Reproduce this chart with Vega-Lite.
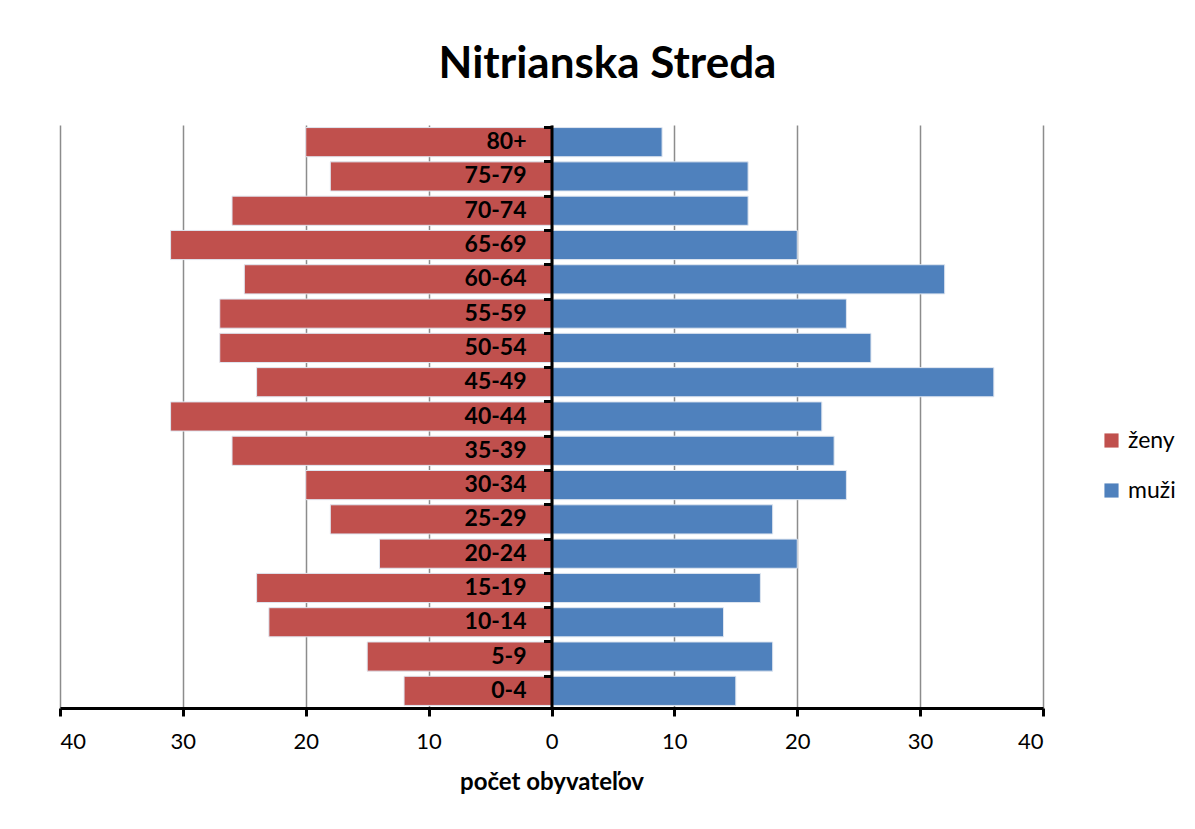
{
  "$schema": "https://vega.github.io/schema/vega-lite/v6.json",
  "autosize": {"type": "none"},
  "width": 983,
  "height": 583,
  "padding": {"left": 60, "top": 125, "right": 152, "bottom": 121},
  "background": "white",
  "title": {
    "text": "Nitrianska Streda",
    "font": "Lato",
    "fontSize": 44,
    "fontWeight": "bold",
    "color": "black",
    "anchor": "middle",
    "dx": 56,
    "offset": 38
  },
  "data": {
    "values": [
      {"age": "80+", "sex": "ženy", "value": 20}, {"age": "80+", "sex": "muži", "value": 9},
      {"age": "75-79", "sex": "ženy", "value": 18}, {"age": "75-79", "sex": "muži", "value": 16},
      {"age": "70-74", "sex": "ženy", "value": 26}, {"age": "70-74", "sex": "muži", "value": 16},
      {"age": "65-69", "sex": "ženy", "value": 31}, {"age": "65-69", "sex": "muži", "value": 20},
      {"age": "60-64", "sex": "ženy", "value": 25}, {"age": "60-64", "sex": "muži", "value": 32},
      {"age": "55-59", "sex": "ženy", "value": 27}, {"age": "55-59", "sex": "muži", "value": 24},
      {"age": "50-54", "sex": "ženy", "value": 27}, {"age": "50-54", "sex": "muži", "value": 26},
      {"age": "45-49", "sex": "ženy", "value": 24}, {"age": "45-49", "sex": "muži", "value": 36},
      {"age": "40-44", "sex": "ženy", "value": 31}, {"age": "40-44", "sex": "muži", "value": 22},
      {"age": "35-39", "sex": "ženy", "value": 26}, {"age": "35-39", "sex": "muži", "value": 23},
      {"age": "30-34", "sex": "ženy", "value": 20}, {"age": "30-34", "sex": "muži", "value": 24},
      {"age": "25-29", "sex": "ženy", "value": 18}, {"age": "25-29", "sex": "muži", "value": 18},
      {"age": "20-24", "sex": "ženy", "value": 14}, {"age": "20-24", "sex": "muži", "value": 20},
      {"age": "15-19", "sex": "ženy", "value": 24}, {"age": "15-19", "sex": "muži", "value": 17},
      {"age": "10-14", "sex": "ženy", "value": 23}, {"age": "10-14", "sex": "muži", "value": 14},
      {"age": "5-9", "sex": "ženy", "value": 15}, {"age": "5-9", "sex": "muži", "value": 18},
      {"age": "0-4", "sex": "ženy", "value": 12}, {"age": "0-4", "sex": "muži", "value": 15}
    ]
  },
  "transform": [
    {"calculate": "datum.sex === 'ženy' ? -datum.value : datum.value", "as": "signed"}
  ],
  "config": {
    "view": {"stroke": null},
    "font": "Lato"
  },
  "layer": [
    {
      "mark": {"type": "bar", "stroke": "#dfe6f0", "strokeWidth": 1},
      "encoding": {
        "x": {
          "field": "signed",
          "type": "quantitative",
          "scale": {"domain": [-40, 40], "nice": false},
          "axis": {
            "values": [-40, -30, -20, -10, 0, 10, 20, 30, 40],
            "labelExpr": "abs(datum.value)",
            "title": "počet obyvateľov",
            "titleFont": "Lato",
            "titleFontSize": 24,
            "titleFontWeight": "bold",
            "titleColor": "black",
            "titlePadding": 18,
            "labelFont": "Lato",
            "labelFontSize": 22,
            "labelColor": "black",
            "labelPadding": 15,
            "domainColor": "black",
            "domainWidth": 3,
            "tickColor": "black",
            "tickWidth": 3,
            "tickSize": 8,
            "grid": true,
            "gridColor": "#8c8c8c",
            "gridWidth": 1.5
          }
        },
        "y": {
          "field": "age",
          "type": "nominal",
          "sort": ["80+", "75-79", "70-74", "65-69", "60-64", "55-59", "50-54", "45-49", "40-44", "35-39", "30-34", "25-29", "20-24", "15-19", "10-14", "5-9", "0-4"],
          "scale": {"paddingInner": 0.15, "paddingOuter": 0.075},
          "axis": {
            "title": null,
            "labels": false,
            "offset": -491.5,
            "bandPosition": 0,
            "domainColor": "black",
            "domainWidth": 3,
            "tickColor": "black",
            "tickWidth": 3,
            "tickSize": 8,
            "grid": false,
            "zindex": 1
          }
        },
        "color": {
          "field": "sex",
          "type": "nominal",
          "scale": {"domain": ["ženy", "muži"], "range": ["#C0504D", "#4F81BD"]},
          "legend": {
            "title": null,
            "orient": "none",
            "legendX": 1040,
            "legendY": 304,
            "symbolType": "square",
            "symbolSize": 200,
            "symbolStrokeWidth": 0,
            "labelFont": "Lato",
            "labelFontSize": 23,
            "labelColor": "black",
            "rowPadding": 26,
            "labelOffset": 5
          }
        }
      }
    },
    {
      "transform": [{"filter": "datum.sex === 'ženy'"}],
      "mark": {"type": "text", "align": "right", "baseline": "middle", "dx": -25, "fontSize": 23, "fontWeight": "bold", "color": "black", "font": "Lato"},
      "encoding": {
        "x": {"datum": 0},
        "y": {"field": "age", "type": "nominal", "sort": ["80+", "75-79", "70-74", "65-69", "60-64", "55-59", "50-54", "45-49", "40-44", "35-39", "30-34", "25-29", "20-24", "15-19", "10-14", "5-9", "0-4"]},
        "text": {"field": "age"}
      }
    }
  ]
}
